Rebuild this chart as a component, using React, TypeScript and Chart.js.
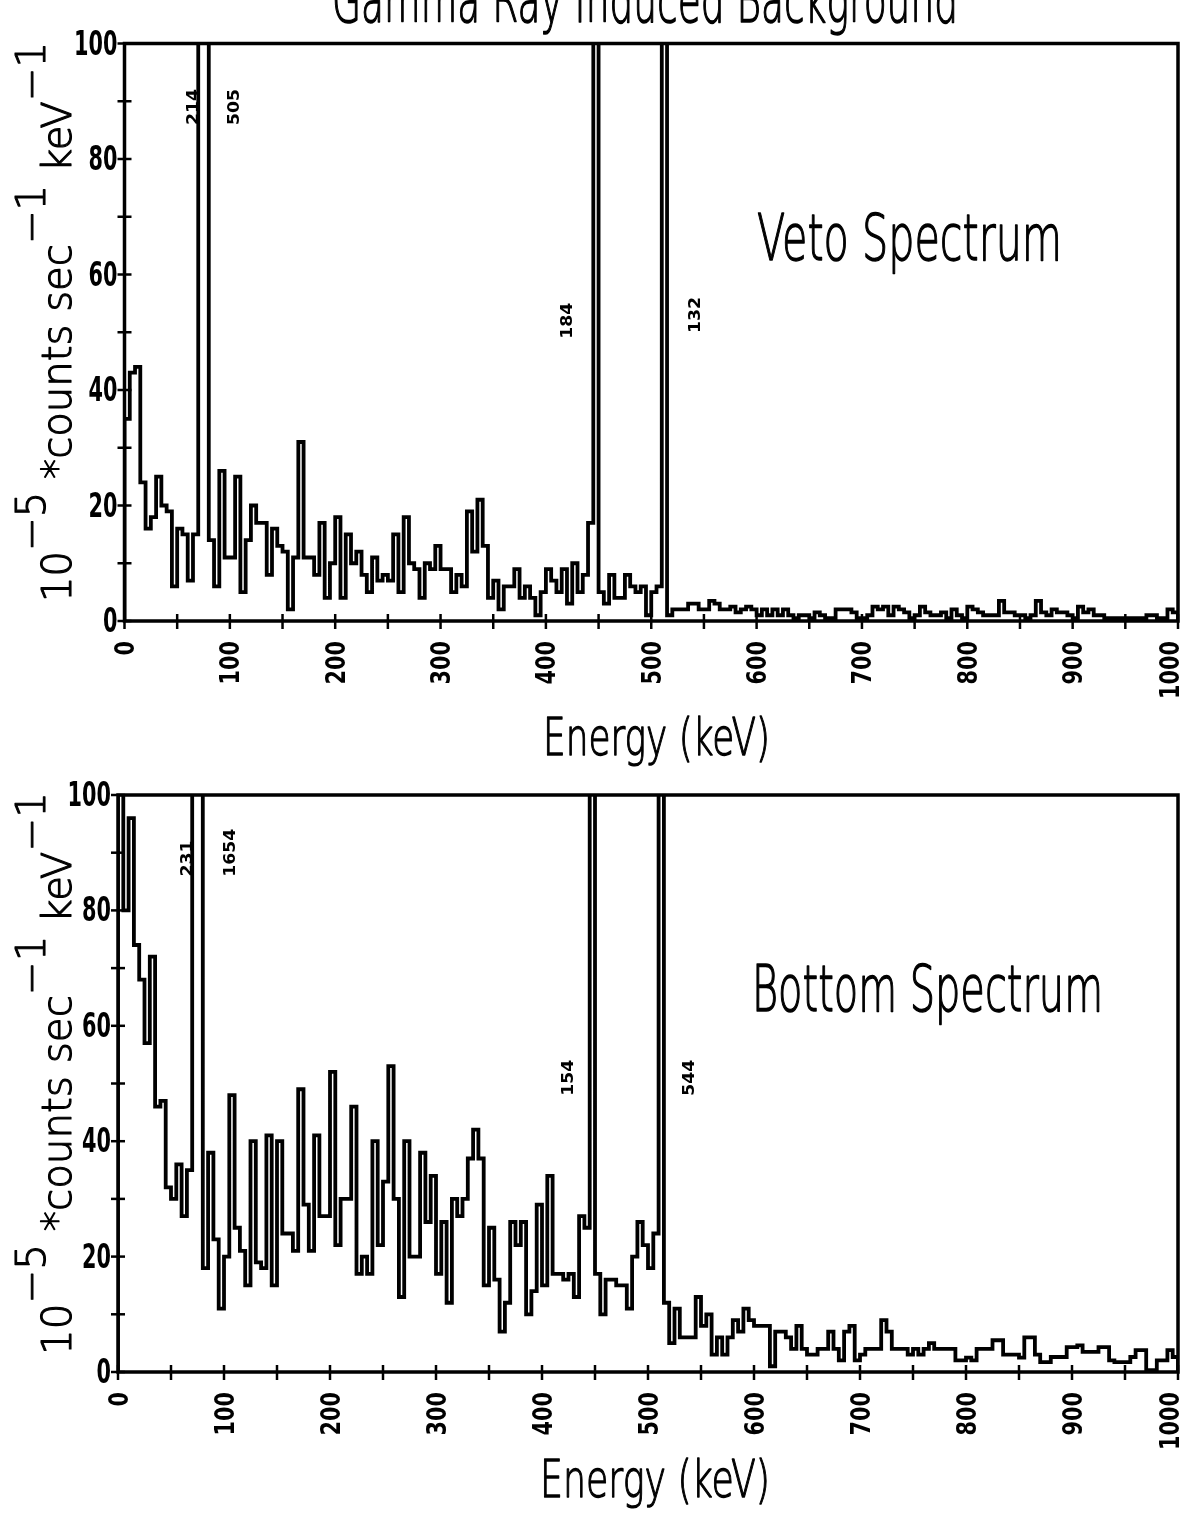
import React, { useEffect, useRef } from 'react';
import { Chart, registerables } from 'chart.js';

Chart.register(...registerables);

// ---------------- data ----------------
const BIN_KEV = 5; // histogram bin width (keV)
const E_MAX = 1000;
const Y_MAX = 100;
const X_TICK_STEP = 50;
const X_LABEL_STEP = 100;
const Y_TICK_STEP = 10;
const Y_LABEL_STEP = 20;

// Veto spectrum, counts per 5 keV bin starting at 0 keV (10^-5 counts s^-1 keV^-1)
const vetoCounts = [
  35, 43, 44, 24, 16, 18, 25, 20, 19, 6,
  16, 15, 7, 15, 214, 505, 14, 6, 26, 11,
  11, 25, 5, 14, 20, 17, 17, 8, 16, 13,
  12, 2, 11, 31, 11, 11, 8, 17, 4, 10,
  18, 4, 15, 10, 12, 8, 5, 11, 7, 8,
  7, 15, 5, 18, 10, 9, 4, 10, 9, 13,
  9, 9, 5, 8, 6, 19, 12, 21, 13, 4,
  7, 2, 6, 6, 9, 4, 6, 4, 1, 5,
  9, 7, 5, 9, 3, 10, 5, 8, 17, 184,
  5, 3, 8, 4, 4, 8, 6, 5, 6, 1,
  5, 6, 132, 1, 2, 2, 2, 3, 3, 2,
  2, 3.5, 3, 2, 2, 2.5, 1.5, 2, 2.5, 2,
  1, 2, 1, 2, 1, 2, 1, 0.5, 1, 1,
  0.5, 1.5, 1, 0.5, 0.5, 2, 2, 2, 1.5, 0.5,
  0.5, 1, 2.5, 2, 2.5, 1, 2.5, 2, 1.5, 0.5,
  1, 2.5, 1.5, 1, 1, 1.5, 0.5, 2, 1, 0.5,
  2.5, 2, 1.5, 1, 1, 1, 3.5, 1.5, 1.5, 1,
  1, 0.5, 1, 3.5, 1.5, 1, 2, 1.5, 1.5, 1,
  0.5, 2.5, 1.5, 2, 1, 1, 0.5, 0.5, 0.5, 0.5,
  0.5, 0.5, 0.5, 0.5, 1, 1, 0.5, 0.5, 2, 1.5,
];

// Bottom spectrum, counts per 5 keV bin starting at 0 keV
const bottomCounts = [
  120, 80, 96, 74, 68, 57, 72, 46, 47, 32,
  30, 36, 27, 35, 231, 1654, 18, 38, 23, 11,
  20, 48, 25, 21, 15, 40, 19, 18, 41, 15,
  40, 24, 24, 21, 49, 29, 21, 41, 27, 27,
  52, 22, 30, 30, 46, 17, 20, 17, 40, 22,
  33, 53, 30, 13, 40, 20, 20, 38, 26, 34,
  17, 26, 12, 30, 27, 30, 37, 42, 37, 15,
  25, 16, 7, 12, 26, 22, 26, 10, 14, 29,
  15, 34, 17, 17, 16, 17, 13, 27, 25, 154,
  17, 10, 16, 16, 15, 15, 11, 20, 26, 22,
  18, 24, 544, 12, 5, 11, 6, 6, 6, 13,
  8, 10, 3, 6, 3, 6, 9, 7, 11, 9,
  8, 8, 8, 1, 7, 7, 6, 4, 8, 4,
  3, 3, 4, 4, 7, 4, 2, 7, 8, 2,
  3, 4, 4, 4, 9, 7, 4, 4, 4, 3,
  4, 3, 4, 5, 4, 4, 4, 4, 2, 2,
  2.5, 2, 4, 4, 4, 5.5, 5.5, 3, 3, 3,
  2.5, 6, 6, 3, 1.7, 1.7, 2.6, 2.6, 2.6, 4.3,
  4.3, 4.6, 3.5, 3.5, 3.5, 4.3, 4.3, 2, 1.7, 1.7,
  1.7, 2.6, 3.8, 3.8, 0.3, 0.3, 2, 2, 3.8, 2.6,
];

// Off-scale peak annotations: which bin's value is written, and where (keV, y-units)
const vetoNotes = [
  { bin: 14, e: 64, v: 89 },
  { bin: 15, e: 103, v: 89 },
  { bin: 89, e: 419, v: 52 },
  { bin: 102, e: 541, v: 53 },
];
const bottomNotes = [
  { bin: 14, e: 64, v: 89 },
  { bin: 15, e: 105, v: 90 },
  { bin: 89, e: 424, v: 51 },
  { bin: 102, e: 538, v: 51 },
];

// ---------------- drawing helpers ----------------
const PX = 40;
const CAP = 0.73;
const FAMILY = '"DejaVu Sans", "Liberation Sans", sans-serif';

function paintText(
  ctx: CanvasRenderingContext2D,
  text: string,
  x: number,
  y: number,
  o: { weight: string; cap: number; width?: number; adv?: number; align: CanvasTextAlign; rot?: boolean; stroke?: number }
) {
  ctx.save();
  ctx.font = `${o.weight} ${PX}px ${FAMILY}`;
  const m = ctx.measureText(text).width;
  const w = o.width !== undefined ? o.width : (o.adv || 10) * text.length;
  const sx = w / m;
  const sy = o.cap / (CAP * PX);
  ctx.translate(x, y);
  if (o.rot) ctx.rotate(-Math.PI / 2);
  ctx.scale(sx, sy);
  ctx.textAlign = o.align;
  ctx.textBaseline = 'alphabetic';
  ctx.fillStyle = '#000';
  ctx.fillText(text, 0, 0);
  if (o.stroke) {
    ctx.strokeStyle = '#000';
    ctx.lineWidth = o.stroke / Math.min(sx, sy);
    ctx.lineJoin = 'round';
    ctx.strokeText(text, 0, 0);
  }
  ctx.restore();
}

function paintYTitle(ctx: CanvasRenderingContext2D, baseX: number, y0: number, y1: number, cap: number, raise: number) {
  const pieces: [string, boolean][] = [
    ['10', false],
    ['\u22125', true],
    [' *counts sec', false],
    ['\u22121', true],
    [' keV', false],
    ['\u22121', true],
  ];
  ctx.save();
  ctx.font = `200 ${PX}px ${FAMILY}`;
  const widths = pieces.map((p) => ctx.measureText(p[0]).width);
  const total = widths.reduce((a, b) => a + b, 0);
  const sA = (y0 - y1) / total;
  const sC = cap / (CAP * PX);
  ctx.translate(baseX, y0);
  ctx.rotate(-Math.PI / 2);
  ctx.scale(sA, sC);
  ctx.fillStyle = '#000';
  ctx.strokeStyle = '#000';
  ctx.lineWidth = 1.1 / Math.min(sA, sC);
  ctx.lineJoin = 'round';
  ctx.textAlign = 'left';
  ctx.textBaseline = 'alphabetic';
  let pos = 0;
  pieces.forEach((p, i) => {
    const yy = p[1] ? -raise / sC : 0;
    ctx.fillText(p[0], pos, yy);
    ctx.strokeText(p[0], pos, yy);
    pos += widths[i];
  });
  ctx.restore();
}

type Box = { text: string; x0: number; x1: number; base: number; cap: number };
type Panel = {
  key: string;
  counts: number[];
  notes: { bin: number; e: number; v: number }[];
  canvasTop: number;
  canvasH: number;
  area: { left: number; right: number; top: number; bottom: number };
  title?: Box;
  label: Box;
  energy: Box;
  yTitle: { base: number; y0: number; y1: number; cap: number; raise: number };
};

const W = 1181;

const panels: Panel[] = [
  {
    key: 'veto',
    counts: vetoCounts,
    notes: vetoNotes,
    canvasTop: 0,
    canvasH: 780,
    area: { left: 124.5, right: 1178, top: 43.5, bottom: 621 },
    title: { text: 'Gamma Ray Induced Background', x0: 332, x1: 958, base: 22, cap: 46 },
    label: { text: 'Veto Spectrum', x0: 757, x1: 1062, base: 260, cap: 47 },
    energy: { text: 'Energy (keV)', x0: 543, x1: 770, base: 755, cap: 37 },
    yTitle: { base: 71, y0: 602, y1: 42, cap: 30, raise: 26 },
  },
  {
    key: 'bottom',
    counts: bottomCounts,
    notes: bottomNotes,
    canvasTop: 770,
    canvasH: 755,
    area: { left: 118, right: 1178, top: 25, bottom: 602 },
    label: { text: 'Bottom Spectrum', x0: 752, x1: 1103, base: 241, cap: 47 },
    energy: { text: 'Energy (keV)', x0: 540, x1: 770, base: 727, cap: 37 },
    yTitle: { base: 71, y0: 585, y1: 22, cap: 30, raise: 26 },
  },
];

function decorPlugin(p: Panel) {
  return {
    id: 'decor_' + p.key,
    beforeDatasetsDraw(chart: any) {
      const { ctx, chartArea: a, scales } = chart;
      ctx.save();
      ctx.strokeStyle = '#000';
      ctx.lineWidth = 3.5;
      ctx.strokeRect(a.left, a.top, a.right - a.left, a.bottom - a.top);
      ctx.lineWidth = 2.5;
      scales.y.ticks.forEach((t: any) => {
        const py = scales.y.getPixelForValue(t.value);
        ctx.beginPath();
        ctx.moveTo(a.left - 7, py);
        ctx.lineTo(a.left + 7, py);
        ctx.stroke();
      });
      scales.x.ticks.forEach((t: any) => {
        const px = scales.x.getPixelForValue(t.value);
        ctx.beginPath();
        ctx.moveTo(px, a.bottom - 7);
        ctx.lineTo(px, a.bottom + 8);
        ctx.stroke();
      });
      ctx.restore();
    },
    afterDraw(chart: any) {
      const { ctx, chartArea: a, scales } = chart;
      // y tick labels
      scales.y.ticks.forEach((t: any) => {
        if (t.value % Y_LABEL_STEP !== 0) return;
        const py = scales.y.getPixelForValue(t.value);
        paintText(ctx, String(t.value), a.left - 7, py + 11, { weight: 'bold', cap: 25, adv: 14.5, align: 'right' });
      });
      // x tick labels (rotated)
      scales.x.ticks.forEach((t: any) => {
        if (t.value % X_LABEL_STEP !== 0) return;
        const px = scales.x.getPixelForValue(t.value);
        const tx = Math.min(px + 9.5, W - 2);
        paintText(ctx, String(t.value), tx, a.bottom + 20, { weight: 'bold', cap: 19, adv: 14.5, align: 'right', rot: true });
      });
      // peak value notes
      p.notes.forEach((n) => {
        const px = scales.x.getPixelForValue(n.e);
        const py = scales.y.getPixelForValue(n.v);
        paintText(ctx, String(p.counts[n.bin]), px + 6, py, { weight: 'bold', cap: 12, adv: 12, align: 'center', rot: true });
      });
      // texts
      const thin = { weight: '200', align: 'left' as CanvasTextAlign, stroke: 0.9 };
      if (p.title) {
        const t = p.title;
        paintText(ctx, t.text, t.x0, t.base, { ...thin, cap: t.cap, width: t.x1 - t.x0 });
      }
      const l = p.label;
      paintText(ctx, l.text, l.x0, l.base, { ...thin, cap: l.cap, width: l.x1 - l.x0 });
      const e = p.energy;
      paintText(ctx, e.text, e.x0, e.base, { ...thin, cap: e.cap, width: e.x1 - e.x0 });
      const y = p.yTitle;
      paintYTitle(ctx, y.base, y.y0, y.y1, y.cap, y.raise);
    },
  };
}

function makeChart(canvas: HTMLCanvasElement, p: Panel) {
  const pts = [{ x: 0, y: 0 }, ...p.counts.map((v, i) => ({ x: i * BIN_KEV, y: v })), { x: E_MAX, y: 0 }];
  return new Chart(canvas, {
    type: 'line',
    data: {
      datasets: [
        {
          data: pts,
          borderColor: '#000',
          borderWidth: 3.8,
          stepped: true,
          pointRadius: 0,
          fill: false,
          tension: 0,
          borderJoinStyle: 'miter',
        } as any,
      ],
    },
    options: {
      animation: false,
      responsive: false,
      maintainAspectRatio: false,
      devicePixelRatio: 1,
      events: [],
      layout: { padding: { left: 0, right: W - p.area.right, top: p.area.top, bottom: 0 } },
      plugins: { legend: { display: false }, tooltip: { enabled: false }, title: { display: false } },
      scales: {
        x: {
          type: 'linear',
          min: 0,
          max: E_MAX,
          grid: { display: false, drawTicks: false },
          border: { display: false },
          ticks: { display: false, stepSize: X_TICK_STEP, maxTicksLimit: 100 },
          afterFit: (s: any) => {
            s.height = p.canvasH - p.area.bottom;
          },
        },
        y: {
          type: 'linear',
          min: 0,
          max: Y_MAX,
          grid: { display: false, drawTicks: false },
          border: { display: false },
          ticks: { display: false, stepSize: Y_TICK_STEP, maxTicksLimit: 100 },
          afterFit: (s: any) => {
            s.width = p.area.left;
          },
        },
      },
    } as any,
    plugins: [decorPlugin(p)],
  });
}

export default function App() {
  const topRef = useRef<HTMLCanvasElement>(null);
  const botRef = useRef<HTMLCanvasElement>(null);
  useEffect(() => {
    const charts = [makeChart(topRef.current!, panels[0]), makeChart(botRef.current!, panels[1])];
    return () => charts.forEach((c) => c.destroy());
  }, []);
  return (
    <div style={{ position: 'absolute', left: 0, top: 0, width: W, height: 1525, background: '#fff', overflow: 'hidden' }}>
      <canvas
        ref={topRef}
        width={W}
        height={panels[0].canvasH}
        style={{ position: 'absolute', left: 0, top: panels[0].canvasTop, width: W, height: panels[0].canvasH }}
      />
      <canvas
        ref={botRef}
        width={W}
        height={panels[1].canvasH}
        style={{ position: 'absolute', left: 0, top: panels[1].canvasTop, width: W, height: panels[1].canvasH }}
      />
    </div>
  );
}
